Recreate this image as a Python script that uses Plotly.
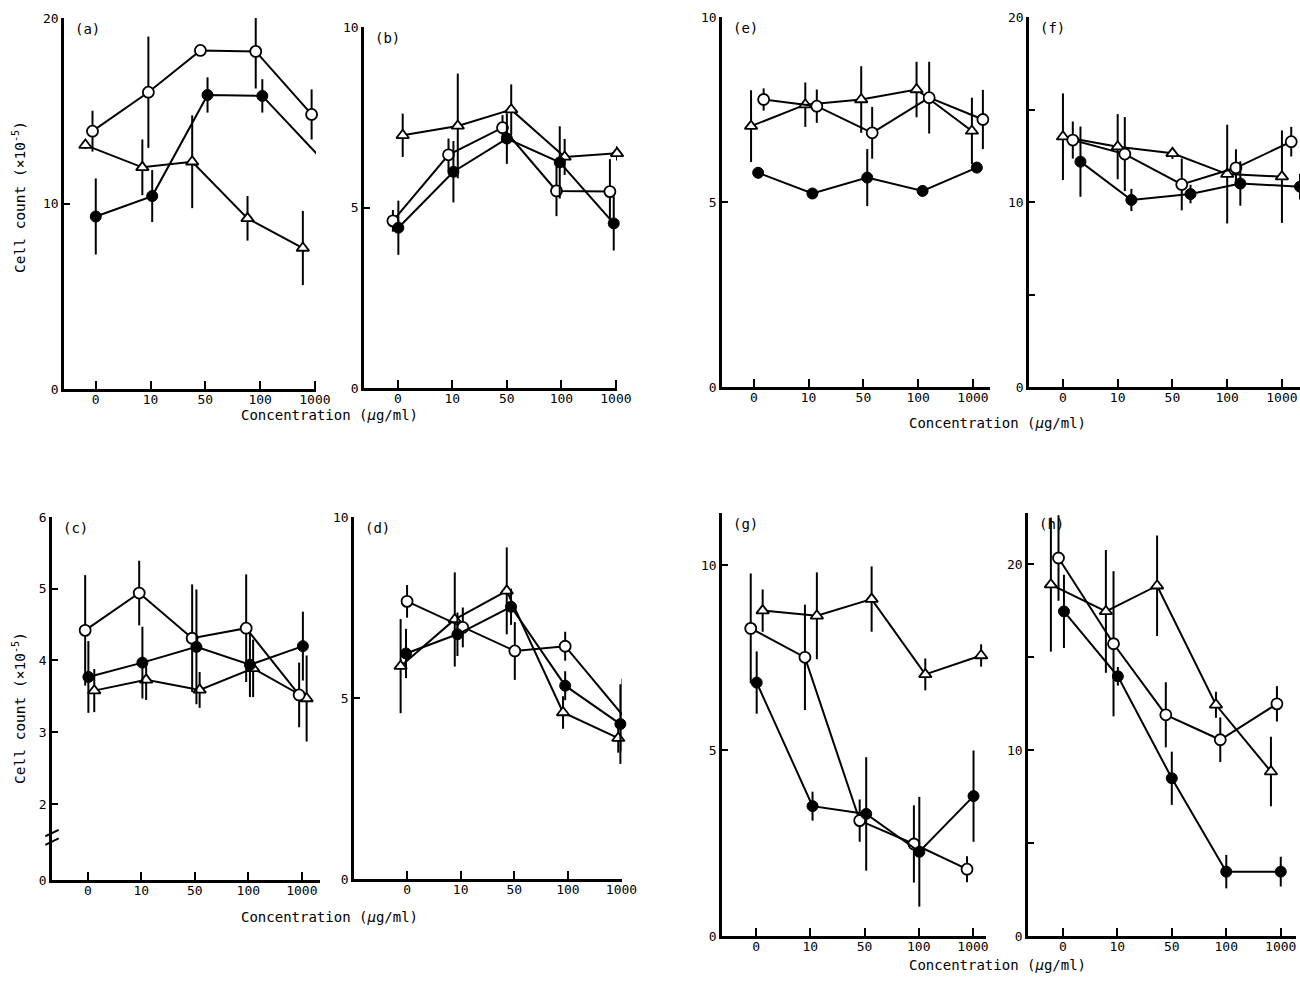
import plotly.graph_objects as go

W, H = 1300, 982
CONC_LABELS = ["0", "10", "50", "100", "1000"]

# ---------------- data (cell count x10^-5) ----------------
A_OPEN = [13.9, 16.0, 18.25, 18.2, 14.8]
A_OPEN_ERR = [1.1, 3.0, 0.2, 2.0, 1.35]
A_FILLED = [9.3, 10.4, 15.85, 15.8, 12.6]
A_FILLED_ERR = [2.05, 1.4, 0.95, 0.9, 2.0]
A_TRI = [13.15, 11.95, 12.25, 9.2, 7.6]
A_TRI_ERR = [0.2, 1.5, 2.5, 1.2, 2.0]

B_OPEN = [4.63, 6.46, 7.21, 5.46, 5.44]
B_OPEN_ERR = [0.3, 0.45, 0.35, 0.7, 0.9]
B_FILLED = [4.44, 5.99, 6.91, 6.25, 4.56]
B_FILLED_ERR = [0.75, 0.85, 0.7, 1.0, 0.75]
B_TRI = [7.0, 7.26, 7.71, 6.4, 6.5]
B_TRI_ERR = [0.6, 1.45, 0.7, 0.5, 0.2]

E_OPEN = [7.77, 7.59, 6.87, 7.82, 7.23]
E_OPEN_ERR = [0.3, 0.45, 0.7, 0.97, 0.8]
E_FILLED = [5.79, 5.23, 5.66, 5.3, 5.93]
E_FILLED_ERR = [0.15, 0.15, 0.77, 0.15, 0.15]
E_TRI = [7.05, 7.63, 7.77, 8.04, 6.92]
E_TRI_ERR = [0.97, 0.6, 0.9, 0.75, 0.9]

F_OPEN = [13.35, 12.59, 10.95, 11.85, 13.26]
F_OPEN_ERR = [1.0, 2.0, 1.4, 1.0, 0.8]
F_FILLED = [12.18, 10.11, 10.43, 11.0, 10.83]
F_FILLED_ERR = [1.9, 0.6, 0.5, 1.2, 0.7]
F_TRI = [13.53, 12.99, 12.63, 11.51, 11.37]
F_TRI_ERR = [2.34, 1.76, 0.3, 2.67, 2.5]

C_OPEN = [4.42, 4.94, 4.31, 4.45, 3.52]
C_OPEN_ERR = [0.77, 0.45, 0.75, 0.75, 0.45]
C_FILLED = [3.77, 3.97, 4.19, 3.94, 4.2]
C_FILLED_ERR = [0.5, 0.5, 0.8, 0.45, 0.48]
C_TRI = [3.58, 3.73, 3.59, 3.89, 3.47]
C_TRI_ERR = [0.3, 0.28, 0.25, 0.4, 0.6]

D_OPEN = [7.67, 6.95, 6.3, 6.43, 4.53]
D_OPEN_ERR = [0.45, 0.55, 0.8, 0.4, 1.0]
D_FILLED = [6.23, 6.76, 7.52, 5.34, 4.28]
D_FILLED_ERR = [0.68, 0.6, 0.5, 0.4, 1.1]
D_TRI = [5.88, 7.17, 7.96, 4.6, 3.89]
D_TRI_ERR = [1.3, 1.3, 1.2, 0.45, 0.4]

G_OPEN = [8.29, 7.51, 3.11, 2.48, 1.8]
G_OPEN_ERR = [1.48, 1.42, 0.57, 1.04, 0.35]
G_FILLED = [6.83, 3.5, 3.29, 2.27, 3.77]
G_FILLED_ERR = [0.84, 0.39, 1.53, 1.48, 1.23]
G_TRI = [8.77, 8.63, 9.08, 7.05, 7.56]
G_TRI_ERR = [0.57, 1.17, 0.88, 0.43, 0.3]

H_OPEN = [20.32, 15.71, 11.89, 10.55, 12.48]
H_OPEN_ERR = [2.3, 3.9, 1.75, 1.2, 0.95]
H_FILLED = [17.45, 13.96, 8.48, 3.46, 3.46]
H_FILLED_ERR = [1.97, 0.5, 1.43, 0.9, 0.8]
H_TRI = [18.89, 17.45, 18.83, 12.43, 8.84]
H_TRI_ERR = [3.6, 3.3, 2.7, 0.7, 1.87]

# ---------------- layout / positions ----------------
# horizontal jitter of each series from its category tick (in category units)
OFFSETS = {
    "a": {"open": [-0.06, -0.04, -0.09, -0.08, -0.06], "filled": [0, 0.03, 0.04, 0.04, 0.06], "tri": [-0.19, -0.15, -0.24, -0.23, -0.22]},
    "b": {"open": [-0.09, -0.07, -0.08, -0.09, -0.11], "filled": [0.01, 0.02, 0, -0.03, -0.04], "tri": [0.09, 0.10, 0.08, 0.06, 0.02]},
    "e": {"open": [0.18, 0.15, 0.16, 0.2, 0.18], "filled": [0.08, 0.07, 0.07, 0.08, 0.07], "tri": [-0.05, -0.06, -0.04, -0.03, -0.02]},
    "f": {"open": [0.18, 0.13, 0.17, 0.16, 0.17], "filled": [0.32, 0.25, 0.33, 0.24, 0.33], "tri": [0, 0, 0, 0, 0]},
    "c": {"open": [-0.05, -0.04, -0.05, -0.04, -0.05], "filled": [0.01, 0.02, 0.03, 0.03, 0.02], "tri": [0.12, 0.09, 0.09, 0.09, 0.09]},
    "d": {"open": [0, 0.04, 0.01, -0.05, 0.02], "filled": [-0.02, -0.06, -0.06, -0.05, -0.02], "tri": [-0.12, -0.11, -0.14, -0.09, -0.06]},
    "g": {"open": [-0.1, -0.1, -0.09, -0.09, -0.11], "filled": [0.01, 0.04, 0.03, 0.01, 0.01], "tri": [0.12, 0.12, 0.13, 0.12, 0.15]},
    "h": {"open": [-0.08, -0.07, -0.11, -0.11, -0.07], "filled": [0.02, 0.01, 0, 0, 0], "tri": [-0.22, -0.21, -0.27, -0.19, -0.18]},
}

SERIES = {
    "a": (A_OPEN, A_OPEN_ERR, A_FILLED, A_FILLED_ERR, A_TRI, A_TRI_ERR),
    "b": (B_OPEN, B_OPEN_ERR, B_FILLED, B_FILLED_ERR, B_TRI, B_TRI_ERR),
    "e": (E_OPEN, E_OPEN_ERR, E_FILLED, E_FILLED_ERR, E_TRI, E_TRI_ERR),
    "f": (F_OPEN, F_OPEN_ERR, F_FILLED, F_FILLED_ERR, F_TRI, F_TRI_ERR),
    "c": (C_OPEN, C_OPEN_ERR, C_FILLED, C_FILLED_ERR, C_TRI, C_TRI_ERR),
    "d": (D_OPEN, D_OPEN_ERR, D_FILLED, D_FILLED_ERR, D_TRI, D_TRI_ERR),
    "g": (G_OPEN, G_OPEN_ERR, G_FILLED, G_FILLED_ERR, G_TRI, G_TRI_ERR),
    "h": (H_OPEN, H_OPEN_ERR, H_FILLED, H_FILLED_ERR, H_TRI, H_TRI_ERR),
}

# panel boxes in pixels: left, right, top, bottom ; x range ; y range ; y tickvals ; y ticktext
PANELS = {
    "a": dict(px=(64, 316, 18, 389), xr=(-0.58, 4.02), yr=(0, 20), tv=[0, 10, 20], tt=["0", "10", "20"]),
    "b": dict(px=(364, 617, 27, 388), xr=(-0.62, 4.02), yr=(0, 10), tv=[0, 5, 10], tt=["0", "5", "10"]),
    "e": dict(px=(722, 990, 17, 387), xr=(-0.58, 4.31), yr=(0, 10), tv=[0, 5, 10], tt=["0", "5", "10"]),
    "f": dict(px=(1029, 1300, 17, 387), xr=(-0.62, 4.33), yr=(0, 20), tv=[0, 5, 10, 15, 20], tt=["0", "", "10", "", "20"]),
    "c": dict(px=(52, 320, 517, 880), xr=(-0.67, 4.34), yr=(0.94, 6), tv=[0.94, 2, 3, 4, 5, 6], tt=["0", "2", "3", "4", "5", "6"]),
    "d": dict(px=(354, 622, 517, 879), xr=(-0.99, 4.01), yr=(0, 10), tv=[0, 5, 10], tt=["0", "5", "10"]),
    "g": dict(px=(722, 986, 513, 936), xr=(-0.63, 4.24), yr=(0, 11.4), tv=[0, 5, 10], tt=["0", "5", "10"]),
    "h": dict(px=(1028, 1296, 513, 936), xr=(-0.64, 4.28), yr=(0, 22.74), tv=[0, 5, 10, 15, 20], tt=["0", "", "10", "", "20"]),
}

FONT = "DejaVu Sans Mono"
fig = go.Figure()
layout = dict(width=W, height=H, margin=dict(l=0, r=0, t=0, b=0),
              paper_bgcolor="white", plot_bgcolor="white", showlegend=False,
              font=dict(family=FONT, size=13, color="black"))
annotations = []
shapes = []

STYLES = {
    "open": dict(symbol="circle", size=11, color="white", line=dict(color="black", width=1.8)),
    "filled": dict(symbol="circle", size=11, color="black", line=dict(color="black", width=1)),
    "tri": dict(symbol="triangle-up", size=11, color="white", line=dict(color="black", width=1.8)),
}

for i, (key, p) in enumerate(PANELS.items(), start=1):
    l, r, t, b = p["px"]
    xa = "xaxis" if i == 1 else f"xaxis{i}"
    ya = "yaxis" if i == 1 else f"yaxis{i}"
    xref = "x" if i == 1 else f"x{i}"
    yref = "y" if i == 1 else f"y{i}"
    layout[xa] = dict(domain=[l / W, r / W], range=list(p["xr"]), anchor=yref,
                      tickvals=list(range(len(CONC_LABELS))), ticktext=CONC_LABELS,
                      ticks="inside", ticklen=8, tickwidth=2, tickcolor="black",
                      ticklabelstandoff=-3,
                      showline=True, linecolor="black", linewidth=2.5, showgrid=False,
                      zeroline=False, automargin=False, tickfont=dict(size=13, family=FONT))
    layout[ya] = dict(domain=[1 - b / H, 1 - t / H], range=list(p["yr"]), anchor=xref,
                      tickvals=p["tv"], ticktext=p["tt"],
                      ticks="inside", ticklen=6, tickwidth=2, tickcolor="black",
                      showline=True, linecolor="black", linewidth=2.5, showgrid=False,
                      zeroline=False, automargin=False, tickfont=dict(size=13, family=FONT))
    o, oe, f, fe, tr, tre = SERIES[key]
    for name, vals, errs in (("tri", tr, tre), ("open", o, oe), ("filled", f, fe)):
        xs = [k + d for k, d in enumerate(OFFSETS[key][name])]
        fig.add_trace(go.Scatter(
            x=xs, y=vals, mode="lines+markers", xaxis=xref, yaxis=yref,
            line=dict(color="black", width=2), marker=STYLES[name], cliponaxis=False,
            error_y=dict(type="data", array=errs, visible=True, color="black", thickness=2, width=0),
        ))
    # panel label
    annotations.append(dict(text=f"({key})", x=(l + 9) / W, y=1 - (t + 1) / H, xref="paper", yref="paper",
                            xanchor="left", yanchor="top", showarrow=False, font=dict(size=14, family=FONT)))

# axis break marks on panel (c)
for dy in (0, 0.12):
    shapes.append(dict(type="line", xref="x5 domain", yref="y5", x0=-0.025, x1=0.025,
                       y0=1.43 + dy, y1=1.52 + dy, line=dict(color="black", width=2)))

YT = "Cell count (×10<sup>-5</sup>)"
XT = "Concentration (<i>μ</i>g/ml)"
for (x, y) in ((19, 197), (19, 708)):
    annotations.append(dict(text=YT, x=x / W, y=1 - y / H, xref="paper", yref="paper", textangle=-90,
                            xanchor="center", yanchor="middle",
                            showarrow=False, font=dict(size=14.5, family=FONT)))
for (x, y) in ((329, 415), (997, 423), (329, 917), (997, 965)):
    annotations.append(dict(text=XT, x=x / W, y=1 - y / H, xref="paper", yref="paper",
                            xanchor="center", yanchor="middle",
                            showarrow=False, font=dict(size=14, family=FONT)))

layout["annotations"] = annotations
layout["shapes"] = shapes
fig.update_layout(**layout)
fig.write_html("out.html")
